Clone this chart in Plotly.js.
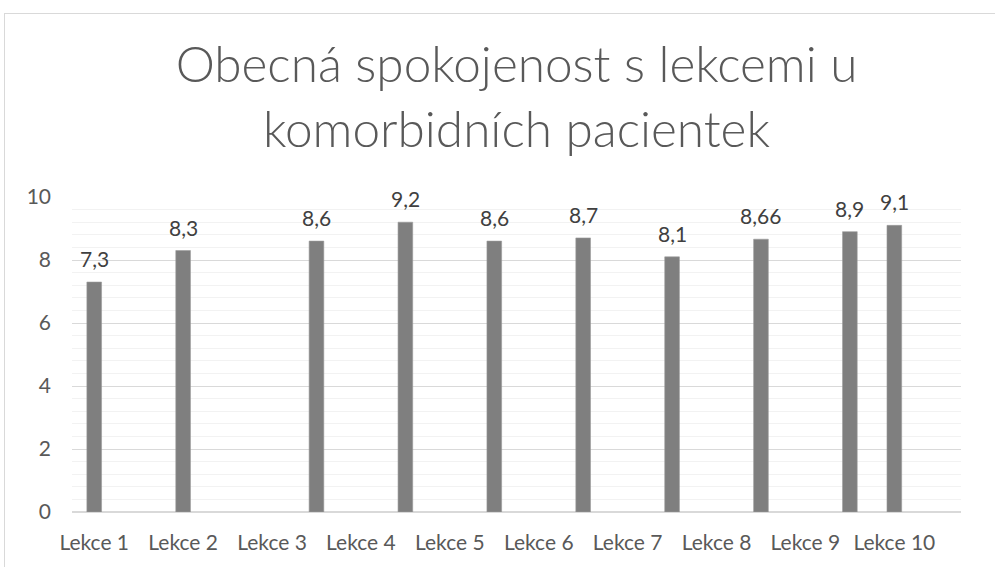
<!DOCTYPE html>
<html>
<head>
<meta charset="utf-8">
<script src="https://cdn.plot.ly/plotly-3.0.1.min.js"></script>
<style>
  html, body { margin: 0; padding: 0; background: #fff; }
  #wrap { position: relative; width: 995px; height: 567px; overflow: hidden; }
  #chart { width: 995px; height: 567px; }
  #frame { position: absolute; left: 4px; top: 13px; width: 1100px; height: 700px;
           border: 1px solid #d9d9d9; pointer-events: none; box-sizing: border-box; }
</style>
</head>
<body>
<div id="wrap">
  <div id="chart"></div>
  <div id="frame"></div>
</div>
<script>
// ---- data ----
const categories = ["Lekce 1", "Lekce 2", "Lekce 3", "Lekce 4", "Lekce 5",
                    "Lekce 6", "Lekce 7", "Lekce 8", "Lekce 9", "Lekce 10"];
const categoryTicks = [1, 2, 3, 4, 5, 6, 7, 8, 9, 10];
const xValues = [1, 2, 3.5, 4.5, 5.5, 6.5, 7.5, 8.5, 9.5, 10];
const satisfaction = [7.3, 8.3, 8.6, 9.2, 8.6, 8.7, 8.1, 8.66, 8.9, 9.1];
const yTicks = [0, 2, 4, 6, 8, 10];
const titleText = "Obecná spokojenost s lekcemi u<br>komorbidních pacientek";

const fmt = v => String(v).replace('.', ',');

const trace = {
  type: 'bar',
  x: xValues,
  y: satisfaction,
  width: 0.165,
  marker: { color: '#7f7f7f', line: { color: '#9a9a9a', width: 0.6 } },
  hoverinfo: 'skip'
};

const labelAnnotations = satisfaction.map((v, i) => ({
  x: xValues[i], y: v, xref: 'x', yref: 'y',
  text: fmt(v), showarrow: false,
  xanchor: 'center', yanchor: 'bottom', yshift: 9,
  font: { family: 'Lato, "Open Sans", sans-serif', size: 21, color: '#404040' }
}));

const layout = {
  width: 995, height: 567,
  margin: { l: 72, r: 34, t: 197, b: 55, pad: 0 },
  paper_bgcolor: '#ffffff', plot_bgcolor: '#ffffff',
  showlegend: false,
  title: {
    text: titleText,
    font: { family: 'Lato, "Open Sans", sans-serif', size: 49.5, color: '#595959', weight: 300 },
    x: 0.5, xanchor: 'center', xref: 'paper',
    y: 0.855, yanchor: 'top', yref: 'container'
  },
  xaxis: {
    type: 'linear', range: [0.75, 10.75],
    tickmode: 'array', tickvals: categoryTicks, ticktext: categories,
    showgrid: false, zeroline: false, showline: false, ticks: '',
    ticklabelstandoff: 16,
    tickfont: { family: 'Lato, "Open Sans", sans-serif', size: 21, color: '#595959' },
    fixedrange: true
  },
  yaxis: {
    range: [0, 10], tickmode: 'array', tickvals: yTicks,
    showgrid: true, gridcolor: '#d9d9d9', gridwidth: 1,
    zeroline: true, zerolinecolor: '#d9d9d9', zerolinewidth: 1.5,
    showline: false, ticks: '',
    minor: { dtick: 0.4, tick0: 0, showgrid: true, gridcolor: '#f2f2f2', gridwidth: 1, ticks: '' },
    ticklabelstandoff: 20,
    tickfont: { family: 'Lato, "Open Sans", sans-serif', size: 21, color: '#595959' },
    fixedrange: true
  },
  annotations: labelAnnotations
};

Plotly.newPlot('chart', [trace], layout, { staticPlot: true, displayModeBar: false });
</script>
</body>
</html>
